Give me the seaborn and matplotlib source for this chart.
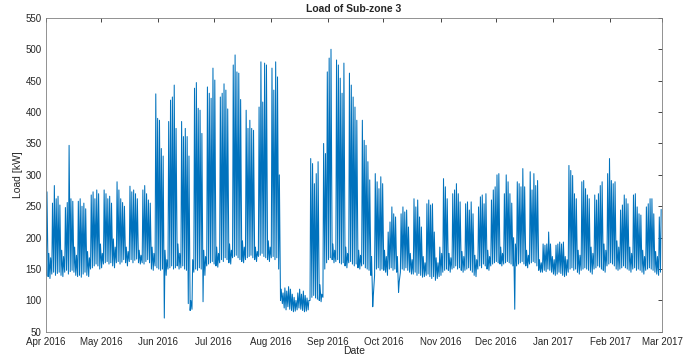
import matplotlib
matplotlib.use("Agg")
import matplotlib.pyplot as plt
import matplotlib.dates as mdates
import numpy as np
import pandas as pd
import seaborn as sns

# Daily peak load [kW], one row per week (Mon..Sun); first row starts Fri 1 Apr 2016
peak_rows = [
    [273, 175, 168],
    [255, 283, 262, 266, 252, 180, 170],
    [248, 256, 347, 262, 258, 185, 172],
    [258, 262, 250, 255, 246, 178, 168],
    [268, 273, 262, 276, 270, 190, 175],
    [276, 270, 262, 266, 255, 198, 185],
    [289, 276, 262, 256, 250, 185, 178],
    [282, 273, 276, 270, 262, 180, 172],
    [276, 283, 270, 260, 255, 185, 175],
    [429, 390, 387, 342, 330, 180, 165],
    [385, 419, 424, 443, 374, 190, 175],
    [385, 361, 374, 361, 330, 100, 165],
    [438, 447, 406, 403, 366, 180, 170],
    [440, 430, 422, 470, 451, 185, 175],
    [424, 430, 445, 435, 405, 190, 180],
    [475, 491, 464, 462, 420, 195, 185],
    [403, 374, 387, 374, 371, 185, 178],
    [408, 480, 416, 478, 475, 195, 185],
    [470, 435, 480, 456, 300, 118, 112],
    [120, 115, 122, 118, 110, 105, 100],
    [112, 118, 110, 115, 108, 104, 100],
    [326, 318, 286, 302, 321, 125, 110],
    [350, 334, 464, 486, 500, 190, 180],
    [483, 475, 454, 430, 478, 185, 175],
    [462, 443, 424, 408, 387, 180, 172],
    [387, 355, 347, 321, 292, 170, 110],
    [302, 289, 278, 297, 286, 180, 170],
    [209, 225, 249, 238, 233, 170, 130],
    [238, 249, 241, 244, 217, 175, 165],
    [262, 249, 260, 233, 217, 170, 160],
    [254, 260, 252, 254, 209, 168, 160],
    [185, 175, 294, 281, 262, 175, 168],
    [270, 276, 286, 270, 257, 178, 170],
    [254, 257, 244, 257, 238, 172, 165],
    [249, 265, 268, 254, 270, 180, 170],
    [260, 276, 281, 300, 302, 185, 175],
    [270, 300, 289, 270, 255, 200, 190],
    [289, 286, 281, 310, 281, 180, 172],
    [305, 276, 302, 283, 291, 165, 160],
    [190, 188, 190, 209, 190, 170, 165],
    [188, 190, 193, 190, 193, 170, 165],
    [315, 307, 299, 270, 262, 180, 172],
    [289, 291, 278, 268, 262, 185, 175],
    [268, 260, 270, 283, 289, 190, 180],
    [302, 326, 291, 286, 289, 195, 185],
    [244, 252, 268, 262, 254, 185, 175],
    [268, 270, 249, 238, 236, 180, 170],
    [249, 254, 262, 262, 238, 178, 170],
    [233, 245],
]

# Daily night-time minimum load [kW], same layout
low_rows = [
    [140, 138, 135],
    [142, 145, 140, 143, 145, 140, 138],
    [145, 148, 142, 146, 148, 145, 140],
    [138, 140, 137, 142, 145, 140, 138],
    [150, 152, 155, 158, 155, 150, 152],
    [158, 160, 162, 158, 160, 155, 152],
    [160, 162, 158, 161, 165, 160, 155],
    [162, 165, 160, 164, 166, 160, 158],
    [160, 158, 162, 165, 160, 150, 148],
    [155, 152, 150, 148, 150, 72, 140],
    [150, 152, 155, 150, 152, 155, 150],
    [152, 155, 150, 148, 95, 84, 86],
    [145, 150, 148, 152, 150, 98, 140],
    [155, 158, 160, 162, 158, 155, 153],
    [160, 165, 162, 168, 165, 160, 158],
    [168, 170, 172, 168, 165, 162, 160],
    [165, 168, 170, 172, 168, 165, 162],
    [170, 172, 175, 170, 168, 165, 162],
    [168, 170, 165, 168, 150, 100, 95],
    [88, 85, 90, 86, 84, 82, 83],
    [85, 88, 86, 84, 82, 83, 85],
    [100, 105, 108, 104, 102, 100, 98],
    [105, 150, 160, 165, 168, 165, 160],
    [162, 165, 160, 158, 160, 155, 152],
    [160, 162, 158, 155, 158, 152, 150],
    [155, 158, 152, 150, 148, 140, 90],
    [140, 150, 152, 148, 150, 148, 145],
    [140, 150, 152, 148, 150, 145, 113],
    [145, 150, 148, 152, 148, 145, 142],
    [142, 145, 140, 143, 140, 137, 138],
    [140, 142, 138, 135, 138, 132, 135],
    [138, 140, 145, 148, 150, 148, 145],
    [150, 152, 155, 150, 152, 148, 145],
    [148, 150, 152, 148, 145, 140, 138],
    [150, 155, 152, 158, 155, 150, 148],
    [155, 158, 160, 162, 160, 158, 155],
    [158, 160, 162, 160, 158, 155, 86],
    [155, 158, 160, 162, 158, 155, 152],
    [158, 160, 162, 160, 155, 148, 145],
    [145, 148, 146, 150, 148, 145, 142],
    [140, 142, 145, 143, 140, 138, 140],
    [145, 150, 152, 148, 150, 145, 142],
    [148, 150, 152, 150, 148, 145, 142],
    [150, 152, 155, 153, 150, 148, 145],
    [155, 158, 160, 158, 155, 150, 148],
    [150, 152, 155, 152, 150, 148, 145],
    [150, 152, 148, 150, 148, 145, 142],
    [148, 150, 152, 150, 148, 145, 142],
    [140, 145],
]

daily_peak = [v for row in peak_rows for v in row]
daily_low = [v for row in low_rows for v in row]
days = pd.date_range("2016-04-01", periods=len(daily_peak), freq="D")

# low at night, peak in early afternoon
times = []
values = []
for d, lo, hi in zip(days, daily_low, daily_peak):
    times += [d + pd.Timedelta(hours=4), d + pd.Timedelta(hours=13)]
    values += [lo, hi]
df = pd.DataFrame({"Date": times, "Load": values})

sns.set_style("white")
plt.rcParams["font.family"] = ["Liberation Sans", "DejaVu Sans"]

fig = plt.figure(figsize=(6.86, 3.58), dpi=100)
ax = fig.add_axes([0.067, 0.073, 0.898, 0.877])
sns.lineplot(data=df, x="Date", y="Load", ax=ax, color="#0072BD", linewidth=0.75)

ax.set_xlim(pd.Timestamp("2016-04-01"), pd.Timestamp("2017-03-01"))
ax.set_ylim(50, 550)
ax.set_yticks(np.arange(50, 551, 50))
ax.xaxis.set_major_locator(mdates.MonthLocator())
ax.xaxis.set_major_formatter(mdates.DateFormatter("%b %Y"))

ax.tick_params(direction="in", top=True, right=True, length=3, width=0.6,
               labelsize=7, colors="#262626", pad=3)
ax.tick_params(axis="x", pad=4)
for s in ax.spines.values():
    s.set_color("#808080")
    s.set_linewidth(0.6)

ax.set_title("Load of Sub-zone 3", fontsize=7.5, fontweight="bold", pad=4)
ax.set_xlabel("Date", fontsize=7.5, labelpad=-1, color="#262626")
ax.set_ylabel("Load [kW]", fontsize=7.5, labelpad=2, color="#262626")

fig.savefig("out.png", dpi=100)
